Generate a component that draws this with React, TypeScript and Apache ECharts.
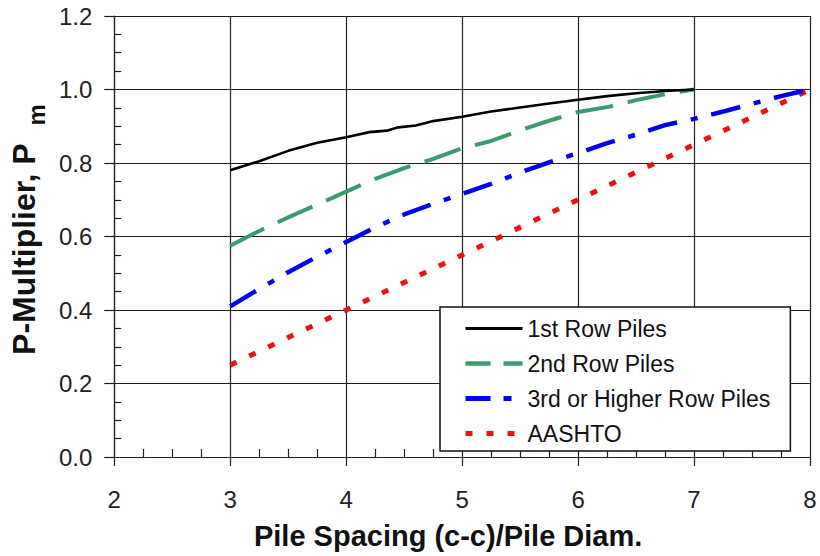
import React, { useEffect, useRef } from "react";
import * as echarts from "echarts";

// Pile spacing (c-c)/pile diameter and P-multiplier values
const row1Spacing = [3, 3.25, 3.5, 3.75, 4, 4.2, 4.35, 4.45, 4.6, 4.75, 5, 5.25, 5.5, 5.75, 6, 6.25, 6.5, 6.75, 7];
const row1Pm = [0.78, 0.805, 0.833, 0.855, 0.87, 0.884, 0.888, 0.897, 0.902, 0.914, 0.926, 0.94, 0.951, 0.962, 0.972, 0.982, 0.99, 0.996, 1.0];

const row2Spacing = [3, 3.25, 3.5, 3.75, 4, 4.25, 4.5, 4.75, 5, 5.25, 5.5, 5.75, 6, 6.25, 6.5, 6.75, 7];
const row2Pm = [0.575, 0.615, 0.652, 0.687, 0.722, 0.757, 0.786, 0.811, 0.84, 0.86, 0.889, 0.915, 0.939, 0.952, 0.971, 0.987, 1.0];

const row3Spacing = [3, 3.25, 3.5, 3.75, 4, 4.25, 4.5, 4.75, 5, 5.25, 5.5, 5.75, 6, 6.25, 6.5, 6.75, 7, 7.25, 7.5, 7.75, 8];
const row3Pm = [0.41, 0.457, 0.503, 0.545, 0.585, 0.625, 0.66, 0.689, 0.716, 0.743, 0.774, 0.802, 0.827, 0.854, 0.877, 0.903, 0.92, 0.94, 0.961, 0.982, 1.0];

const aashtoSpacing = [3, 4, 5, 6, 7, 8];
const aashtoPm = [0.25, 0.4, 0.55, 0.7, 0.85, 1.0];

const seriesNames = ["1st Row Piles", "2nd Row Piles", "3rd or Higher Row Piles", "AASHTO"];

const zip = (xs: number[], ys: number[]) => xs.map((x, i) => [x, ys[i]]);

const FONT = "'Liberation Sans', Arial, sans-serif";
const AXIS_COLOR = "#1e1e1e";

export default function App() {
  const ref = useRef<HTMLDivElement>(null);

  useEffect(() => {
    if (!ref.current) return;
    const chart = echarts.init(ref.current, undefined, { renderer: "svg" });

    const hiddenSymbol = { opacity: 0 };

    const option: any = {
      animation: false,
      backgroundColor: "#ffffff",
      textStyle: { fontFamily: FONT },
      grid: { left: 110, right: 10, top: 16, bottom: 94, containLabel: false },
      xAxis: {
        type: "value",
        min: 2,
        max: 8,
        interval: 1,
        name: "Pile Spacing (c-c)/Pile Diam.",
        nameLocation: "middle",
        nameGap: 64,
        nameTextStyle: {
          fontFamily: FONT,
          fontSize: 29,
          fontWeight: "bold",
          color: "#111",
          lineHeight: 30,
          padding: [0, 28, 0, 0],
        },
        axisLine: { show: true, onZero: false, lineStyle: { color: AXIS_COLOR, width: 1.2 } },
        axisTick: { show: true, inside: false, length: 9, lineStyle: { color: AXIS_COLOR, width: 1.2 } },
        minorTick: { show: true, splitNumber: 4, length: -8, lineStyle: { color: AXIS_COLOR, width: 1.2 } },
        splitLine: { show: true, lineStyle: { color: AXIS_COLOR, width: 1.2 } },
        axisLabel: { fontFamily: FONT, fontSize: 24, color: "#222", margin: 30 },
      },
      yAxis: {
        type: "value",
        min: 0,
        max: 1.2,
        interval: 0.2,
        name: "{a|P-Multiplier, P}{b|m}",
        nameLocation: "middle",
        nameRotate: 90,
        nameGap: 62,
        nameTextStyle: {
          fontFamily: FONT,
          fontSize: 32,
          fontWeight: "bold",
          color: "#111",
          padding: [0, 0, 0, 14],
          rich: {
            a: { fontFamily: FONT, fontSize: 32, fontWeight: "bold", color: "#111" },
            b: { fontFamily: FONT, fontSize: 24, fontWeight: "bold", color: "#111", padding: [24, 0, 0, 18] },
          },
        },
        axisLine: { show: true, onZero: false, lineStyle: { color: AXIS_COLOR, width: 1.2 } },
        axisTick: { show: true, inside: false, length: 10, lineStyle: { color: AXIS_COLOR, width: 1.2 } },
        minorTick: { show: true, splitNumber: 4, length: -7, lineStyle: { color: AXIS_COLOR, width: 1.2 } },
        splitLine: { show: true, lineStyle: { color: AXIS_COLOR, width: 1.2 } },
        axisLabel: {
          fontFamily: FONT,
          fontSize: 24,
          color: "#222",
          margin: 22,
          formatter: (v: number) => v.toFixed(1),
        },
      },
      legend: {
        orient: "vertical",
        left: 440,
        top: 307,
        padding: [10, 20, 6, 23],
        backgroundColor: "#ffffff",
        borderColor: "#111",
        borderWidth: 1.5,
        borderRadius: 0,
        itemWidth: 57,
        itemHeight: 14,
        itemGap: 12,
        selectedMode: false,
        textStyle: { fontFamily: FONT, fontSize: 23, color: "#111", lineHeight: 22 },
        data: [
          { name: seriesNames[0], itemStyle: hiddenSymbol, lineStyle: { type: "solid", width: 3 } },
          { name: seriesNames[1], itemStyle: hiddenSymbol, lineStyle: { type: [25, 13], width: 4.5 } },
          { name: seriesNames[2], itemStyle: hiddenSymbol, lineStyle: { type: [25, 13, 8, 13], width: 5 } },
          { name: seriesNames[3], itemStyle: hiddenSymbol, lineStyle: { type: [7, 14], width: 5 } },
        ],
      },
      series: [
        {
          name: seriesNames[0],
          type: "line",
          data: zip(row1Spacing, row1Pm),
          symbol: "none",
          z: 5,
          lineStyle: { color: "#000000", width: 2.6, type: "solid" },
          itemStyle: { color: "#000000" },
        },
        {
          name: seriesNames[1],
          type: "line",
          data: zip(row2Spacing, row2Pm),
          symbol: "none",
          z: 4,
          lineStyle: { color: "#3d9a6f", width: 4, type: [38, 15], cap: "butt" },
          itemStyle: { color: "#3d9a6f" },
        },
        {
          name: seriesNames[2],
          type: "line",
          data: zip(row3Spacing, row3Pm),
          symbol: "none",
          z: 3,
          lineStyle: { color: "#0000ee", width: 4.5, type: [30, 14, 7, 14], cap: "butt" },
          itemStyle: { color: "#0000ee" },
        },
        {
          name: seriesNames[3],
          type: "line",
          data: zip(aashtoSpacing, aashtoPm),
          symbol: "none",
          z: 2,
          lineStyle: { color: "#ee1111", width: 5, type: [7, 14], cap: "butt" },
          itemStyle: { color: "#ee1111" },
        },
      ],
    };

    chart.setOption(option);
    return () => chart.dispose();
  }, []);

  return (
    <div
      ref={ref}
      style={{ position: "absolute", left: 0, top: 0, width: 820, height: 556, background: "#fff" }}
    />
  );
}
